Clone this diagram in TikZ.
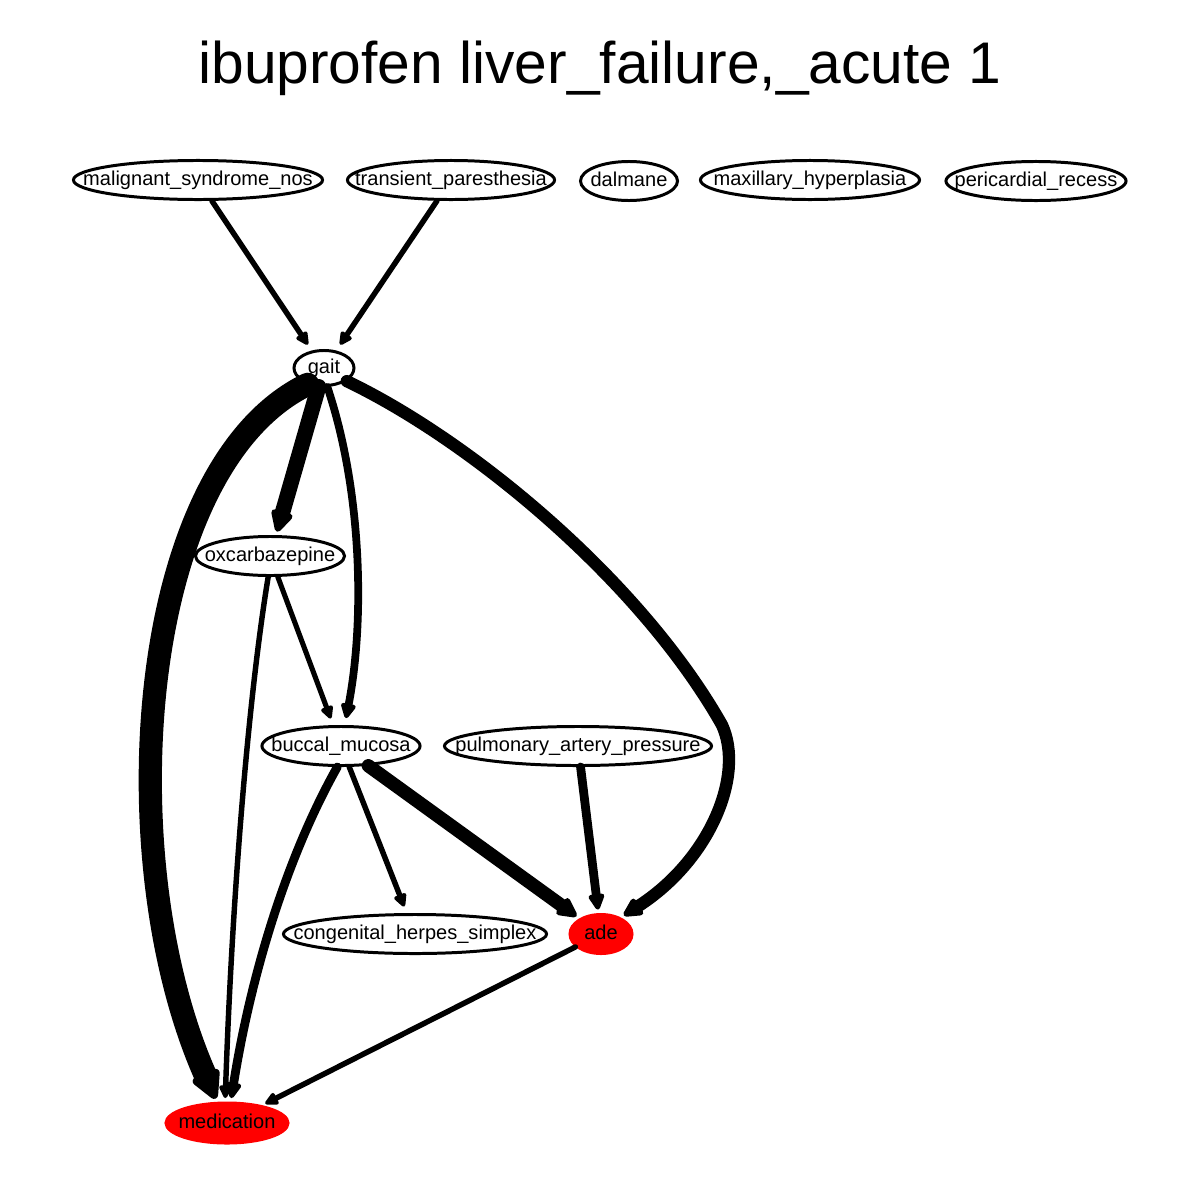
\documentclass[tikz,border=0pt]{standalone}
\usepackage{fontspec}
\setmainfont{Liberation Sans}
\usetikzlibrary{arrows.meta,shapes.geometric}
\newcommand{\zb}[1]{\makebox[0pt]{#1}}
\begin{document}
\begin{tikzpicture}[x=0.01cm,y=-0.01cm,
  nd/.style={ellipse, draw, line width=0.85pt, inner sep=0pt, minimum height=0.39cm,
    font=\fontsize{5.7pt}{6pt}\selectfont, text height=4.5pt, text depth=1.13pt},
  rednd/.style={nd, draw=red, fill=red},
  ed/.style={line width=#1, line cap=round, shorten >=1pt,
    -{Triangle[length=2.8pt 1,width=2.4pt 1,round]}}]
\fill[white] (0,0) rectangle (1200,1200);
\useasboundingbox (0,0) rectangle (1200,1200);
\node[font=\fontsize{16.7pt}{18pt}\selectfont, anchor=base] (title) at (600,83) {ibuprofen liver\_failure,\_acute 1};
% nodes
\node[nd, minimum width=2.49cm] (malignant) at (198,180) {\zb{malignant\_syndrome\_nos}};
\node[nd, minimum width=2.07cm] (transient) at (451,180) {\zb{transient\_paresthesia}};
\node[nd, minimum width=0.97cm] (dalmane) at (629,181) {\zb{dalmane}};
\node[nd, minimum width=2.19cm] (maxillary) at (810,180) {\zb{maxillary\_hyperplasia}};
\node[nd, minimum width=1.80cm] (pericardial) at (1036,181) {\zb{pericardial\_recess}};
\node[nd, minimum width=0.60cm, minimum height=0.35cm] (gait) at (324,368) {\zb{gait}};
\node[nd, minimum width=1.49cm] (oxc) at (270,556) {\zb{oxcarbazepine}};
\node[nd, minimum width=1.58cm] (buccal) at (341,746) {\zb{buccal\_mucosa}};
\node[nd, minimum width=2.67cm] (pulm) at (578,746) {\zb{pulmonary\_artery\_pressure}};
\node[nd, minimum width=2.63cm] (cong) at (415,934) {\zb{congenital\_herpes\_simplex}};
\node[rednd, minimum width=0.62cm, minimum height=0.39cm] (ade) at (601,934) {\zb{ade}};
\node[rednd, minimum width=1.22cm, minimum height=0.40cm] (med) at (227,1123) {\zb{medication}};
% edges
\draw[ed=1.55pt, shorten >=2pt] (malignant) -- (gait.125);
\draw[ed=1.55pt, shorten >=2pt] (transient) -- (gait.55);
\draw[ed=6.6pt] (gait.-135) .. controls (135,468) and (110,860) .. (med.115);
\draw[ed=4.4pt] (gait) -- (oxc);
\draw[ed=2.2pt, shorten >=2pt] (gait.-80) .. controls (362,490) and (365,620) .. (buccal.80);
\draw[ed=3.5pt] (gait.-30) .. controls (470,440) and (640,580) .. (722,725)
   .. controls (745,775) and (710,860) .. (ade.40);
\draw[ed=1.45pt, shorten >=2pt] (oxc) -- (buccal);
\draw[ed=1.55pt] (oxc.-95) .. controls (248,700) and (232,900) .. (med.95);
\draw[ed=2.5pt] (buccal.-100) .. controls (285,860) and (250,980) .. (med.80);
\draw[ed=1.55pt, shorten >=2pt] (buccal) -- (cong);
\draw[ed=3.8pt] (buccal) -- (ade);
\draw[ed=2.5pt] (pulm) -- (ade);
\draw[ed=1.55pt] (ade) -- (med);
\end{tikzpicture}
\end{document}
